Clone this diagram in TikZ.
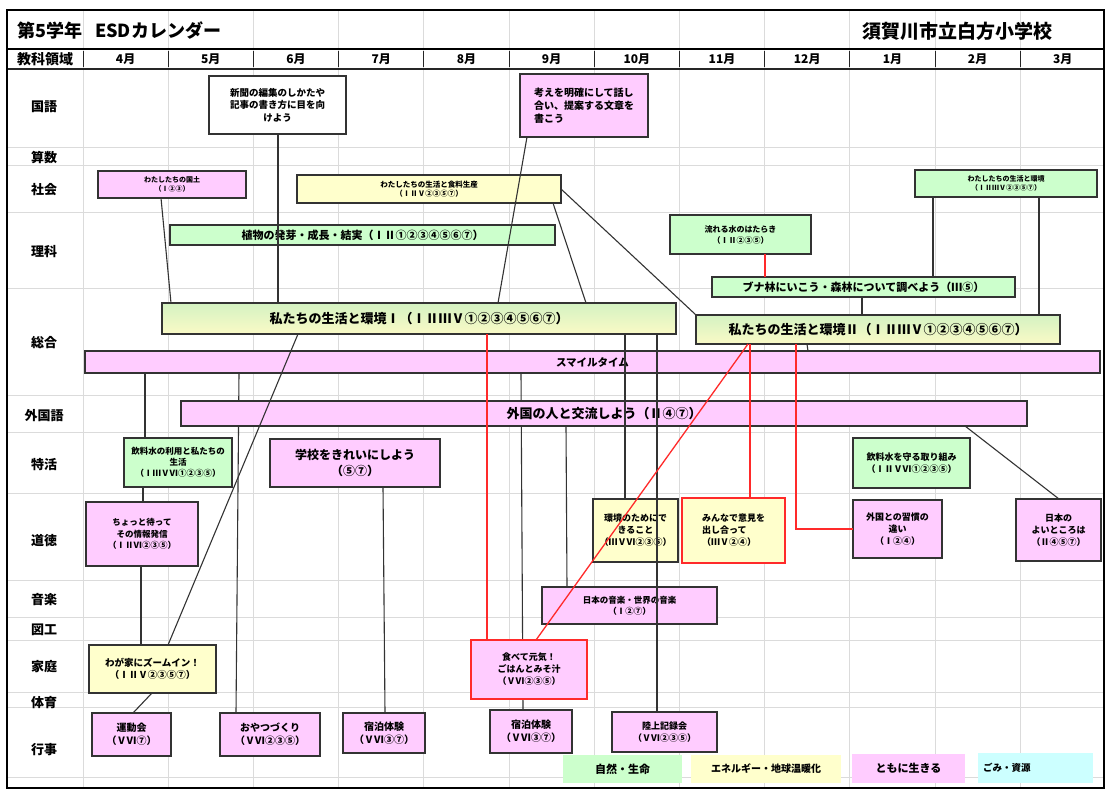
\documentclass[tikz,border=0pt]{standalone}
\usepackage{fontspec}
\setmainfont{Noto Sans CJK JP}
\definecolor{pinkc}{HTML}{FFCCFF}
\definecolor{greenc}{HTML}{CCFFCC}
\definecolor{yellowc}{HTML}{FFFFCC}
\definecolor{cyanc}{HTML}{CCFFFF}
\definecolor{sogotop}{HTML}{D4F2C2}
\definecolor{sogobot}{HTML}{FAFAC6}
\definecolor{redc}{HTML}{FF2A2A}
\newcommand\fsz[2]{\fontsize{#1}{#2}\selectfont}
\newcommand\mybox[7]{\node[#6,anchor=north west,minimum width={(#4-#2)*1pt},minimum height={(#5-#3)*1pt}] (#1) at (#2,#3) {#7};}
\begin{document}
\begin{tikzpicture}[x=1pt,y=-1pt,
 bx/.style={draw=black!80,line width=1.1pt,inner sep=1pt,align=center,outer sep=0pt,text=black},
 pk/.style={bx,fill=pinkc},
 gr/.style={bx,fill=greenc},
 yl/.style={bx,fill=yellowc},
 wt/.style={bx,fill=white},
 sg/.style={bx,top color=sogotop,bottom color=sogobot},
 rb/.style={draw=redc,line width=1.5pt},
 lg/.style={inner sep=0pt,align=center,font=\bfseries,outer sep=0pt},
 ln/.style={draw=black!80,line width=1.1pt},
 rl/.style={draw=redc,line width=1.3pt},
 gridln/.style={draw=black!14,line width=0.8pt},
 rowlab/.style={font=\bfseries\fsz{13}{15}},
 monlab/.style={font=\bfseries\fsz{12}{14}}]
\fill[white] (0,0) rectangle (1105,792);
\useasboundingbox (0,0) rectangle (1105,792);
% grid
\foreach \i in {0,...,11} \draw[gridln] ({83+85.2*\i},10) -- ({83+85.2*\i},788);
\foreach \y in {147,165,212,288,395,432,493,580,617,640,692,707,777} \draw[gridln] (7,\y) -- (1104,\y);
% header
\draw[black,line width=2.5pt] (7,49) -- (1104,49);
\draw[black!85,line width=1pt] (7,69) -- (1104,69);
\foreach \i in {0,...,11} \draw[black!85,line width=1pt] ({83+85.2*\i},51) -- ({83+85.2*\i},67);
\node[anchor=west,font=\bfseries\fsz{18}{20}] (title) at (14,31) {第5学年\hspace{0.7em}ESDカレンダー};
\node[anchor=west,font=\bfseries\fsz{19}{21}] (school) at (859,31) {須賀川市立白方小学校};
\node[font=\bfseries\fsz{14}{16}] (hdr) at (45,59) {教科領域};
\foreach \m [count=\i from 0] in {4月,5月,6月,7月,8月,9月,10月,11月,12月,1月,2月,3月}
  \node[monlab] (m\i) at ({83+85.2*(\i+0.5)},59) {\m};
% row labels
\node[rowlab] (rKokugo) at (44,107) {国語};
\node[rowlab] (rSansu) at (44,158) {算数};
\node[rowlab] (rShakai) at (44,190) {社会};
\node[rowlab] (rRika) at (44,252) {理科};
\node[rowlab] (rSogo) at (44,343) {総合};
\node[rowlab] (rGaikoku) at (44,416) {外国語};
\node[rowlab] (rTokkatsu) at (44,465) {特活};
\node[rowlab] (rDotoku) at (44,541) {道徳};
\node[rowlab] (rOngaku) at (44,600) {音楽};
\node[rowlab] (rZuko) at (44,630) {図工};
\node[rowlab] (rKatei) at (44,667) {家庭};
\node[rowlab] (rTaiiku) at (44,703) {体育};
\node[rowlab] (rGyoji) at (44,750) {行事};
% ---------- boxes ----------
\mybox{kokA}{209}{76}{346}{134}{wt,font=\bfseries\fsz{9.5}{12.5}}{新聞の編集のしかたや\\記事の書き方に目を向\\けよう}
\mybox{kokB}{520}{74}{648}{137}{pk,align=left,font=\bfseries\fsz{10}{13}}{考えを明確にして話し\\合い、提案する文章を\\書こう}
\mybox{shaA}{98}{171}{246}{198}{pk,font=\bfseries\fsz{7}{8.5}}{わたしたちの国土\\（Ⅰ②③）}
\mybox{shaB}{297}{175}{561}{203}{yl,font=\bfseries\fsz{7.5}{9.5}}{わたしたちの生活と食料生産\\（ⅠⅡⅤ②③⑤⑦）}
\mybox{shaC}{915}{170}{1097}{197}{gr,font=\bfseries\fsz{7}{9}}{わたしたちの生活と環境\\（ⅠⅡⅢⅤ②③⑤⑦）}
\mybox{rikaA}{170}{225}{555}{245}{gr,font=\bfseries\fsz{11}{13}}{植物の発芽・成長・結実（ⅠⅡ①②③④⑤⑥⑦）}
\mybox{rikaB}{670}{215}{811}{254}{gr,font=\bfseries\fsz{8}{11}}{流れる水のはたらき\\（ⅠⅡ②③⑤）}
% connectors drawn behind boxes
\draw[ln] ([xshift=69pt]kokA.south west) coordinate (k1) -- (k1 |- 0,303);
\mybox{buna}{712}{277}{1015}{297}{gr,font=\bfseries\fsz{11}{13}}{ブナ林にいこう・森林について調べよう（Ⅲ⑤）}
\mybox{sogoA}{162}{303}{676}{334}{sg,font=\bfseries\fsz{13}{15}}{私たちの生活と環境Ⅰ（ⅠⅡⅢⅤ①②③④⑤⑥⑦）}
\mybox{sogoB}{696}{315}{1060}{344}{sg,font=\bfseries\fsz{13}{15}}{私たちの生活と環境Ⅱ（ⅠⅡⅢⅤ①②③④⑤⑥⑦）}
\mybox{smile}{85}{351}{1100}{373}{pk,font=\bfseries\fsz{10.5}{12}}{スマイルタイム}
\mybox{gyoB}{220}{713}{320}{756}{pk,font=\bfseries\fsz{10}{13}}{おやつづくり\\（ⅤⅥ②③⑤）}
\mybox{gyoD}{490}{710}{572}{753}{pk,font=\bfseries\fsz{10}{13}}{宿泊体験\\（ⅤⅥ③⑦）}
\draw[ln] ([xshift=154pt]smile.south west) -- ([xshift=16pt]gyoB.north west);
\draw[ln] ([xshift=436pt]smile.south west) -- ([xshift=33pt]gyoD.north west);
\mybox{gaikoku}{181}{401}{1027}{426}{pk,font=\bfseries\fsz{13}{15}}{外国の人と交流しよう（Ⅱ④⑦）}
\mybox{tokA}{124}{438}{232}{487}{gr,font=\bfseries\fsz{8.5}{11}}{飲料水の利用と私たちの\\生活\\（ⅠⅢⅤⅥ①②③⑤）}
\mybox{tokB}{270}{439}{440}{487}{pk,font=\bfseries\fsz{12}{16}}{学校をきれいにしよう\\（⑤⑦）}
\mybox{tokC}{853}{438}{970}{488}{gr,font=\bfseries\fsz{9}{12}}{飲料水を守る取り組み\\（ⅠⅡⅤⅥ①②③⑤）}
\mybox{dotA}{86}{502}{198}{566}{pk,font=\bfseries\fsz{8.5}{11.5}}{ちょっと待って\\その情報発信\\（ⅠⅡⅥ②③⑤）}
\mybox{dotB}{593}{499}{678}{562}{yl,font=\bfseries\fsz{9}{12}}{環境のためにで\\きること\\（ⅢⅤⅥ②③⑤）}
\mybox{dotC}{682}{498}{785}{563}{yl,rb,align=left,font=\bfseries\fsz{9}{12}}{みんなで意見を\\出し合って\\（ⅢⅤ②④）}
\mybox{dotD}{853}{500}{942}{558}{pk,font=\bfseries\fsz{9}{12}}{外国との習慣の\\違い\\（Ⅰ②④）}
\mybox{dotE}{1016}{499}{1101}{561}{pk,font=\bfseries\fsz{9}{12}}{日本の\\よいところは\\（Ⅱ④⑤⑦）}
\mybox{ongaku}{542}{587}{717}{624}{pk,font=\bfseries\fsz{8.5}{11}}{日本の音楽・世界の音楽\\（Ⅰ②⑦）}
\mybox{kateiA}{89}{645}{216}{693}{yl,font=\bfseries\fsz{9.5}{12.5}}{わが家にズームイン！\\（ⅠⅡⅤ②③⑤⑦）}
\mybox{kateiB}{471}{640}{587}{699}{pk,rb,font=\bfseries\fsz{9}{12}}{食べて元気！\\ごはんとみそ汁\\（ⅤⅥ②③⑤）}
\mybox{gyoA}{92}{713}{171}{756}{pk,font=\bfseries\fsz{10}{13}}{運動会\\（ⅤⅥ⑦）}
\mybox{gyoC}{343}{713}{425}{753}{pk,font=\bfseries\fsz{10}{13}}{宿泊体験\\（ⅤⅥ③⑦）}
\mybox{gyoE}{612}{712}{717}{752}{pk,font=\bfseries\fsz{9}{12}}{陸上記録会\\（ⅤⅥ②③⑤）}
% legend
\node[lg,fill=greenc,anchor=north west,minimum width=119pt,minimum height=28pt,font=\bfseries\fsz{11}{13}] (legA) at (563,755) {自然・生命};
\node[lg,fill=yellowc,anchor=north west,minimum width=150pt,minimum height=28pt,font=\bfseries\fsz{10}{12}] (legB) at (691,755) {エネルギー・地球温暖化};
\node[lg,fill=pinkc,anchor=north west,minimum width=113pt,minimum height=29pt,font=\bfseries\fsz{11}{13}] (legC) at (852,754) {ともに生きる};
\node[lg,fill=cyanc,anchor=north west,text width=105pt,inner xsep=5pt,minimum height=30pt,align=left,font=\bfseries\fsz{9.5}{11}] (legD) at (978,753) {ごみ・資源\\[6pt]};
% ---------- connectors on top ----------
\draw[ln] ([xshift=7pt]kokB.south west) -- ([xshift=336pt]sogoA.north west);
\draw[ln] ([xshift=63pt]shaA.south west) -- ([xshift=9pt]sogoA.north west);
\draw[ln] ([xshift=256pt]shaB.south west) -- ([xshift=424pt]sogoA.north west);
\draw[ln] (shaB.east) -- (sogoB.north west);
\draw[rl] ([xshift=95pt]rikaB.south west) -- ([xshift=53pt]buna.north west);
\draw[ln] ([xshift=150pt]buna.south west) -- ([xshift=166pt]sogoB.north west);
\draw[ln] ([xshift=18pt]shaC.south west) -- ([xshift=221pt]buna.north west);
\draw[ln] ([xshift=124pt]shaC.south west) -- ([xshift=343pt]sogoB.north west);
\draw[ln] ([xshift=136pt]sogoA.south west) -- ([xshift=79pt]kateiA.north west);
\draw[rl] ([xshift=325pt]sogoA.south west) -- ([xshift=16pt]kateiB.north west);
\draw[ln] ([xshift=463pt]sogoA.south west) -- ([xshift=32pt]dotB.north west);
\draw[ln] ([xshift=495pt]sogoA.south west) -- ([xshift=45pt]gyoE.north west);
\draw[rl] ([xshift=54pt]sogoB.south west) -- ([xshift=68pt]dotC.north west);
\draw[rl] ([xshift=100pt]sogoB.south west) |- (dotD.west);
\draw[rl] ([xshift=52pt]sogoB.south west) -- ([xshift=65pt]kateiB.north west);
\draw[ln] ([xshift=111pt]sogoB.south west) -- ([xshift=723pt]smile.north west);
\draw[ln] ([xshift=60pt]smile.south west) -- ([xshift=21pt]tokA.north west);
\draw[ln] ([xshift=19pt]tokA.south west) -- ([xshift=57pt]dotA.north west);
\draw[ln] ([xshift=55pt]dotA.south west) -- ([xshift=52pt]kateiA.north west);
\draw[ln] ([xshift=63pt]kateiA.south west) -- ([xshift=41pt]gyoA.north west);
\draw[ln] ([xshift=113pt]tokB.south west) -- ([xshift=42pt]gyoC.north west);
\draw[ln] ([xshift=385pt]gaikoku.south west) -- ([xshift=25pt]ongaku.north west);
\draw[ln] ([xshift=784pt]gaikoku.south west) -- ([xshift=43pt]dotE.north west);
% frame
\draw[black,line width=2.5pt] (7,10) rectangle (1104,788);
\end{tikzpicture}
\end{document}
